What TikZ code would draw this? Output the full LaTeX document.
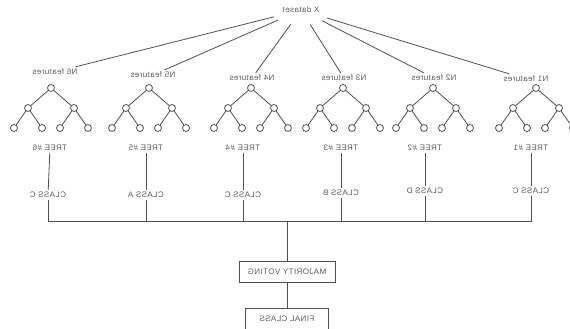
\documentclass[tikz,border=0pt]{standalone}
\usepackage{fontspec}
\usetikzlibrary{shapes.geometric}

\newfontfamily\lblfont[LetterSpace=5]{Liberation Sans}
\definecolor{linegray}{HTML}{505050}
\definecolor{textgray}{HTML}{5A5A5A}

\tikzset{
  mirror/.style={xscale=-1},
  lbl/.style={mirror,font=\lblfont\fontsize{8}{9}\selectfont,text=textgray,inner sep=2pt},
  leaf/.style={circle,draw=linegray,line width=0.8pt,minimum size=7pt,inner sep=0pt},
  votebox/.style={lbl,draw=linegray,line width=0.8pt,minimum height=21pt},
  wire/.style={draw=linegray,line width=0.8pt}
}

\begin{document}
\begin{tikzpicture}[x=1pt,y=-1pt]
        \useasboundingbox (0,0) rectangle (570,329);

        % dataset and feature subsets
        \node[lbl,ellipse,minimum width=60pt,minimum height=30pt] (ds) at (301,10) {X dataset};

        \begin{scope}[every node/.style={lbl}]
          \node (f1) at (526,79) {N1 features};
          \node (f2) at (434,78) {N2 features};
          \node (f3) at (344,78) {N3 features};
          \node (f4) at (252,78) {N4 features};
          \node (f5) at (153,75) {N5 features};
          \node (f6) at (55,72)  {N6 features};
        \end{scope}

        \begin{scope}[every path/.style={wire}]
          \path (ds) edge (f1);
          \path (ds) edge (f2);
          \path (ds) edge (f3);
          \path (ds) edge (f4);
          \path (ds) edge (f5);
          \path (ds) edge (f6);
        \end{scope}

        % trees
        \foreach \n/\x in {1/536,2/433,3/343,4/251,5/149,6/51} {
          \node[leaf] (r\n)  at (\x,88)     {};
          \node[leaf] (a\n)  at (\x-23,108) {};
          \node[leaf] (b\n)  at (\x+23,108) {};
          \node[leaf] (aa\n) at (\x-37,128) {};
          \node[leaf] (ab\n) at (\x-9,128)  {};
          \node[leaf] (ba\n) at (\x+9,128)  {};
          \node[leaf] (bb\n) at (\x+37,128) {};
          \draw[wire] (r\n) -- (a\n) (r\n) -- (b\n)
                      (a\n) -- (aa\n) (a\n) -- (ab\n)
                      (b\n) -- (ba\n) (b\n) -- (bb\n);
        }

        % tree outputs
        \begin{scope}[every node/.style={lbl}]
          \node (t1) at (531,148) {TREE \#1};
          \node (t2) at (425,148) {TREE \#2};
          \node (t3) at (341,148) {TREE \#3};
          \node (t4) at (243,148) {TREE \#4};
          \node (t5) at (146,148) {TREE \#5};
          \node (t6) at (50,148)  {TREE \#6};

          \node (c1) at (531,191) {CLASS C};
          \node (c2) at (425,191) {CLASS D};
          \node (c3) at (341,193) {CLASS B};
          \node (c4) at (243,195) {CLASS C};
          \node (c5) at (146,195) {CLASS A};
          \node (c6) at (48,195)  {CLASS C};
        \end{scope}

        \coordinate (bus) at (287,221);

        \node[votebox,minimum width=96pt] (mv) at (287,271.5) {MAJORITY VOTING};
        \node[votebox,minimum width=83pt,minimum height=22pt] (fc) at (287,319) {FINAL CLASS};

        \begin{scope}[every path/.style={wire}]
          \path (t1) edge (c1);
          \path (t2) edge (c2);
          \path (t3) edge (c3);
          \path (t4) edge (c4);
          \path (t5) edge (c5);
          \path (t6) edge (c6);
          \draw (c1) |- (bus);
          \draw (c2) |- (bus);
          \draw (c3) |- (bus);
          \draw (c4) |- (bus);
          \draw (c5) |- (bus);
          \draw (c6) |- (bus);
          \draw (bus) -- (mv);
          \draw (mv) -- (fc);
        \end{scope}

      \end{tikzpicture}
\end{document}
